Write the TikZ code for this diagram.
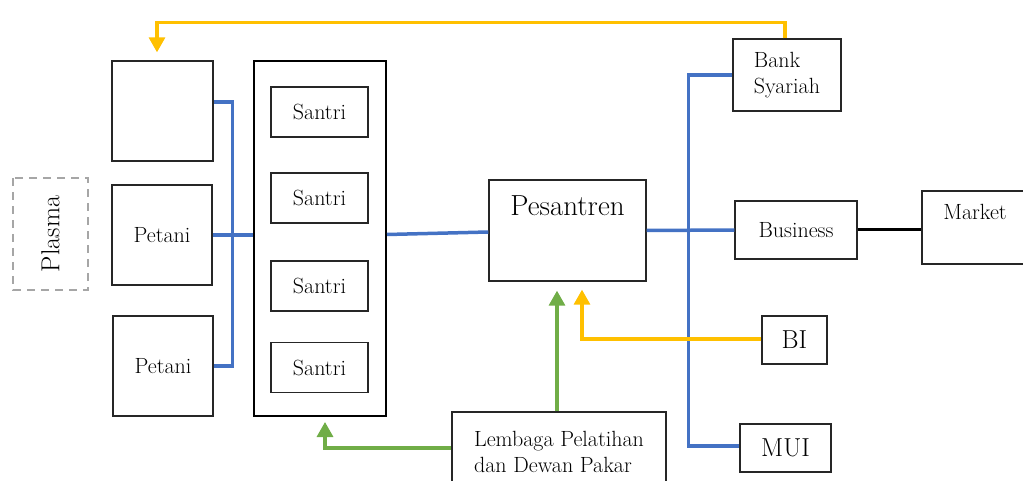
\documentclass[tikz,border=0pt]{standalone}
\usepackage{fontspec}
\usetikzlibrary{arrows.meta}

\definecolor{linkblue}{HTML}{4472C4}
\definecolor{flowyellow}{HTML}{FFC000}
\definecolor{flowgreen}{HTML}{70AD47}
\definecolor{framegray}{HTML}{A6A6A6}

\newcommand{\fsnormal}{\fontsize{22}{26}\selectfont}
\newcommand{\fsbig}{\fontsize{26}{30}\selectfont}
\newcommand{\fshead}{\fontsize{29}{33}\selectfont}

\tikzset{
  box/.style={draw=black!85, line width=1.3pt, inner sep=0pt, font=\fsnormal},
  link/.style={draw=linkblue, line width=3.5pt},
  yflow/.style={draw=flowyellow, line width=3.2pt, -{Triangle[width=16pt,length=15pt]}},
  gflow/.style={draw=flowgreen, line width=3.2pt, -{Triangle[width=16pt,length=15pt]}}
}

\begin{document}
\begin{tikzpicture}[x=1pt, y=-1pt]
  \useasboundingbox (0,0) rectangle (1023,481);

  \node[box, minimum width=101, minimum height=100] (blank) at (162.5,111) {};
  \node[box, minimum width=100, minimum height=100] (petaniA) at (162,235) {Petani};
  \node[box, minimum width=100, minimum height=100] (petaniB) at (163,366) {Petani};
  \node[draw=framegray, line width=2pt, dash pattern=on 8pt off 6pt, rotate=90,
        minimum width=112, minimum height=75, inner sep=0pt, font=\fsbig] (plasma) at (50.5,234) {Plasma};

  \node[box, line width=2pt, draw=black, minimum width=132, minimum height=355] (group) at (320,238.5) {};
  \node[box, minimum width=97, minimum height=50] (santriA) at (319.5,112) {Santri};
  \node[box, minimum width=97, minimum height=50] (santriB) at (319.5,198) {Santri};
  \node[box, minimum width=97, minimum height=50] (santriC) at (319.5,286) {Santri};
  \node[box, minimum width=97, minimum height=50] (santriD) at (319.5,367.5) {Santri};

  \node[box, minimum width=157, minimum height=101,
        label={[anchor=north, yshift=-13pt, font=\fshead]north:Pesantren}] (pesantren) at (567.5,230.5) {};
  \node[box, minimum width=214, minimum height=80, align=left] (lembaga) at (559,452)
        {Lembaga Pelatihan\\dan Dewan Pakar};

  \node[box, minimum width=108, minimum height=72, align=left] (bank) at (787,75) {Bank\\Syariah};
  \node[box, minimum width=122, minimum height=58] (business) at (796,230) {Business};
  \node[box, minimum width=106, minimum height=73,
        label={[anchor=north, yshift=-10pt, font=\fsnormal]north:Market}] (market) at (975,227.5) {};
  \node[box, minimum width=65, minimum height=48, font=\fsbig] (bi) at (794.5,340) {BI};
  \node[box, minimum width=91, minimum height=48, font=\fsbig] (mui) at (785.5,448) {MUI};

  \draw[link] ([yshift=9pt]blank.east) -- ++(19,0) |- (petaniB.east);
  \draw[link] (petaniA.east) -- (petaniA.east -| group.west);
  \draw[link] ([yshift=4pt]group.east) -- ([yshift=-1.5pt]pesantren.west);
  \draw[link] (pesantren.east) -- (business.west);
  \draw[link] (bank.west) -- ++(-44,0) |- ([yshift=2pt]mui.west);
  \draw[black, line width=3pt] (business.east) -- (business.east -| market.west);

  \draw[yflow] ([xshift=-2pt]bank.north) -- ++(0,-16) -| ([xshift=-5.5pt,yshift=8pt]blank.north);
  \draw[yflow] ([yshift=1pt]bi.west) -| ([xshift=14.5pt,yshift=-8pt]pesantren.south);
  \draw[gflow] ([xshift=-2pt]lembaga.north) -- ([xshift=-10.5pt,yshift=-9pt]pesantren.south);
  \draw[gflow] ([yshift=4pt]lembaga.west) -| ([xshift=5pt,yshift=-5pt]group.south);
\end{tikzpicture}
\end{document}
